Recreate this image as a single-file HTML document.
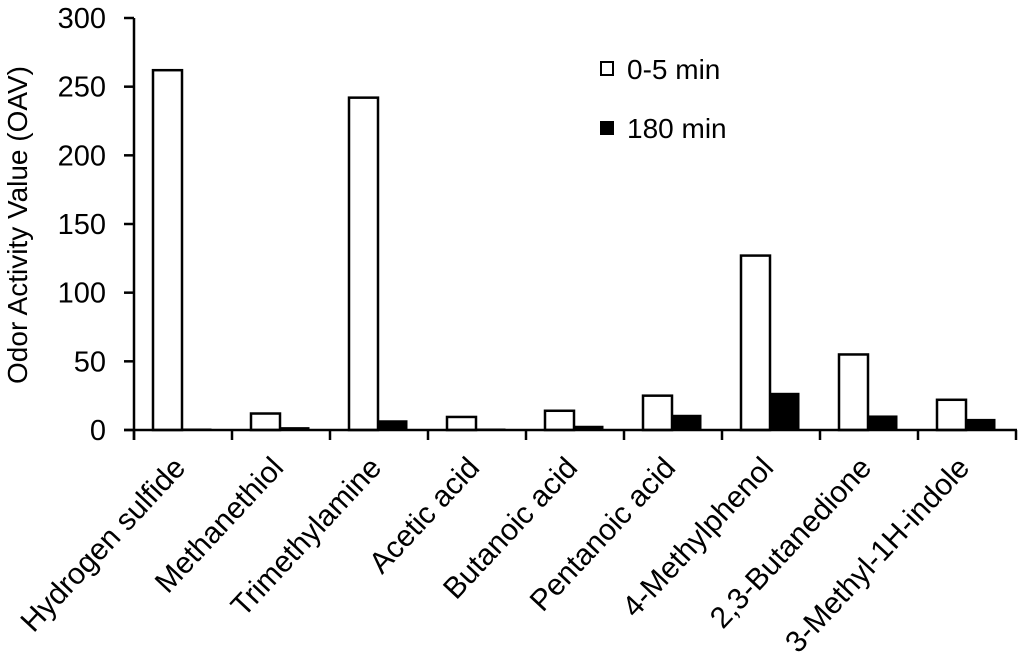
<!DOCTYPE html>
<html><head><meta charset="utf-8"><style>
body{margin:0;background:#fff;}
svg text{font-family:"Liberation Sans",Arial,sans-serif;fill:#000;}
</style></head><body>
<svg id="chart" width="1024" height="663">
<g id="g"></g>
</svg>
<script>
const categories=["Hydrogen sulfide","Methanethiol","Trimethylamine","Acetic acid","Butanoic acid","Pentanoic acid","4-Methylphenol","2,3-Butanedione","3-Methyl-1H-indole"];
const series05=[262,12,242,9.5,14,25,127,55,22];
const series180=[0,1,6,0,2,10,26,9.5,7];
const yTicks=[0,50,100,150,200,250,300];
const NS="http://www.w3.org/2000/svg";
const g=document.getElementById('g');
const X0=134,X1=1016,Y0=430,Y1=18,YMAX=300;
const band=(X1-X0)/categories.length;
function y(v){return Y0-(v/YMAX)*(Y0-Y1);}
function xc(i){return X0+i*band;}
function mk(t,a){const e=document.createElementNS(NS,t);for(const k in a)e.setAttribute(k,a[k]);g.appendChild(e);return e;}
categories.forEach((c,i)=>{
  const w=mk('rect',{x:xc(i)+19,y:y(series05[i]),width:29,height:Y0-y(series05[i]),fill:'#fff',stroke:'#000','stroke-width':2.5});
  
  
  const b=mk('rect',{x:xc(i)+48,y:y(series180[i])-1,width:29,height:Y0-y(series180[i])+1,fill:'#000',stroke:'#000','stroke-width':1});
  
  
  const t=mk('line',{x1:xc(i),x2:xc(i),y1:Y0,y2:Y0+10,stroke:'#000','stroke-width':2.5});
  
  
  const cx=xc(i)+band/2+4,cy=Y0+39;
  const l=mk('text',{x:cx,y:cy,'font-size':30,'text-anchor':'end',transform:`rotate(-47 ${cx} ${cy})`});
  l.textContent=c;
  
  
});
const xa=mk('line',{x1:X0-10,x2:X1+1,y1:Y0,y2:Y0,stroke:'#000','stroke-width':2.5});


const xt=mk('line',{x1:X1,x2:X1,y1:Y0,y2:Y0+10,stroke:'#000','stroke-width':2.5});


const ya=mk('line',{x1:X0,x2:X0,y1:Y1,y2:Y0+10,stroke:'#000','stroke-width':2.5});


yTicks.forEach(v=>{
  const t=mk('line',{x1:X0-10,x2:X0,y1:y(v),y2:y(v),stroke:'#000','stroke-width':2.5});
  
  
  const l=mk('text',{x:X0-28,y:y(v)+10,'font-size':29,'text-anchor':'end'});
  l.textContent=v;
  
  
});
const yt=mk('text',{x:27,y:225,'font-size':28,'text-anchor':'middle',transform:'rotate(-90 27 225)'});
yt.textContent='Odor Activity Value (OAV)';


const lw=mk('rect',{x:601,y:62,width:12,height:13,fill:'#fff',stroke:'#000','stroke-width':2});


const lt1=mk('text',{x:627,y:79,'font-size':28});
lt1.textContent='0-5 min';


const lb=mk('rect',{x:600,y:121,width:14,height:14,fill:'#000'});


const lt2=mk('text',{x:627,y:138,'font-size':28});
lt2.textContent='180 min';


</script>
</body></html>
